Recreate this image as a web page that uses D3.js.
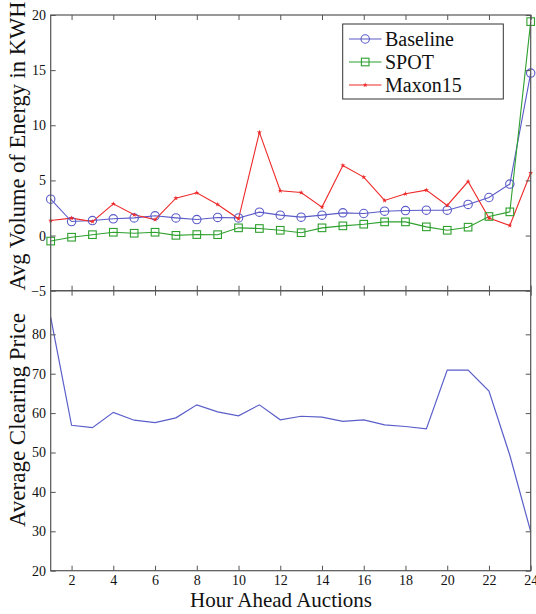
<!DOCTYPE html>
<html><head><meta charset="utf-8">
<script src="https://cdn.jsdelivr.net/npm/d3@7"></script>
<style>body{margin:0;background:#fff}svg{display:block}</style>
</head><body>
<svg id="c" width="536" height="614"></svg>
<script>
const hours = d3.range(1, 25);
const xTicks = [2,4,6,8,10,12,14,16,18,20,22,24];
const topTicks = [-5,0,5,10,15,20];
const botTicks = [20,30,40,50,60,70,80];
const baseline = [3.3,1.27,1.36,1.52,1.6,1.79,1.6,1.45,1.64,1.6,2.12,1.85,1.67,1.85,2.06,2.0,2.21,2.27,2.3,2.3,2.82,3.45,4.67,14.73];
const spot = [-0.5,-0.15,0.08,0.3,0.21,0.3,0.02,0.09,0.08,0.7,0.64,0.48,0.26,0.7,0.88,1.03,1.24,1.24,0.79,0.48,0.76,1.73,2.15,19.4];
const maxon15 = [1.36,1.58,1.27,2.88,1.88,1.45,3.39,3.88,2.82,1.52,9.36,4.06,3.9,2.58,6.36,5.3,3.18,3.79,4.12,2.73,4.9,1.58,0.91,5.7];
const price = [84.3,56.9,56.3,60.2,58.2,57.6,58.8,62.1,60.3,59.3,62.1,58.3,59.2,59.0,57.9,58.3,57.0,56.6,56.0,70.9,70.9,65.6,49.3,29.9];
const seriesNames = ["Baseline","SPOT","Maxon15"];
const colors = ["#5a5ac8","#2ea02e","#ee2a2a"];

const svg = d3.select("#c");
const L = 50.7, R = 530.7, T1 = 15, B1 = 290.7, T2 = 290.7, B2 = 570.7;
const axisColor = "#555";
const font = "'Liberation Serif', 'Times New Roman', serif";

const x = d3.scaleLinear().domain([1,24]).range([L,R]);
const y1 = d3.scaleLinear().domain([-5,20]).range([B1,T1]);
const y2 = d3.scaleLinear().domain([20,91.07]).range([B2,T2]);

function frame(y, top, bot, ticks, showX) {
  const g = svg.append("g");
  const tl = 5;
  const left = g.append("g").attr("transform",`translate(${L},0)`).call(d3.axisLeft(y).tickValues(ticks).tickSizeInner(-tl).tickSizeOuter(0).tickPadding(4.6));
  const right = g.append("g").attr("transform",`translate(${R},0)`).call(d3.axisRight(y).tickValues(ticks).tickSizeInner(-tl).tickSizeOuter(0).tickFormat(""));
  const topA = g.append("g").attr("transform",`translate(0,${top})`).call(d3.axisTop(x).tickValues(xTicks).tickSizeInner(-tl).tickSizeOuter(0).tickFormat(""));
  const botA = g.append("g").attr("transform",`translate(0,${bot})`).call(d3.axisBottom(x).tickValues(xTicks).tickSizeInner(-tl).tickSizeOuter(0).tickPadding(4));
  if (!showX) botA.selectAll("text").remove();
  [left,right,topA,botA].forEach(a => {
    a.select(".domain").remove();
    a.selectAll("line").attr("stroke", axisColor);
    a.selectAll("text").attr("fill","#111").style("font-family",font).style("font-size","14px");
  });
  g.append("rect").attr("x",L).attr("y",top).attr("width",R-L).attr("height",bot-top)
    .attr("fill","none").attr("stroke",axisColor).attr("stroke-width",1.2);
}

const allSeries = [baseline, spot, maxon15];
const line1 = d3.line().x((d,i)=>x(hours[i])).y(d=>y1(d));
allSeries.forEach((s,k)=>{
  svg.append("path").datum(s).attr("d",line1).attr("fill","none").attr("stroke",colors[k]).attr("stroke-width",1.1);
});
function marker(g, k, cx, cy) {
  if (k===0) g.append("circle").attr("cx",cx).attr("cy",cy).attr("r",4.2).attr("fill","none").attr("stroke",colors[0]).attr("stroke-width",1.1);
  else if (k===1) g.append("rect").attr("x",cx-3.8).attr("y",cy-3.8).attr("width",7.6).attr("height",7.6).attr("fill","none").attr("stroke",colors[1]).attr("stroke-width",1.1);
  else g.append("path").attr("transform",`translate(${cx},${cy})`).attr("d",d3.symbol(d3.symbolStar,8)()).attr("fill",colors[2]);
}
const mg = svg.append("g");
allSeries.forEach((s,k)=>{ s.forEach((v,i)=>marker(mg,k,x(hours[i]),y1(v))); });

const line2 = d3.line().x((d,i)=>x(hours[i])).y(d=>y2(d));
svg.append("path").datum(price).attr("d",line2).attr("fill","none").attr("stroke","#5a5ec8").attr("stroke-width",1.2);

frame(y1, T1, B1, topTicks, false);
frame(y2, T2, B2, botTicks, true);

const lg = svg.append("g");
lg.append("rect").attr("x",342.7).attr("y",24).attr("width",160.6).attr("height",75).attr("fill","#fff").attr("stroke","#333").attr("stroke-width",1);
seriesNames.forEach((n,k)=>{
  const yy = 39 + k*23;
  lg.append("line").attr("x1",349).attr("x2",381.5).attr("y1",yy).attr("y2",yy).attr("stroke",colors[k]).attr("stroke-width",1.1);
  marker(lg,k,365.2,yy);
  lg.append("text").attr("x",385).attr("y",yy+7).text(n).style("font-family",font).style("font-size","20px").attr("fill","#111");
});

svg.append("text").attr("transform",`translate(25,146) rotate(-90)`).attr("text-anchor","middle")
  .text("Avg Volume of Energy in KWH").style("font-family",font).style("font-size","22.5px").attr("fill","#111");
svg.append("text").attr("transform",`translate(25,420) rotate(-90)`).attr("text-anchor","middle")
  .text("Average Clearing Price").style("font-family",font).style("font-size","23px").attr("fill","#111");
svg.append("text").attr("x",281).attr("y",607).attr("text-anchor","middle")
  .text("Hour Ahead Auctions").style("font-family",font).style("font-size","21px").attr("fill","#111");
</script>
</body></html>
